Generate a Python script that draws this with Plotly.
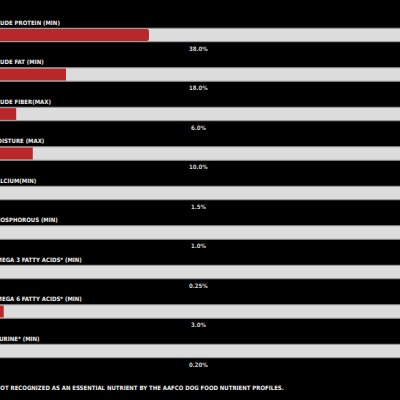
import plotly.graph_objects as go

nutrients = ["CRUDE PROTEIN (MIN)", "CRUDE FAT (MIN)", "CRUDE FIBER(MAX)", "MOISTURE (MAX)",
             "CALCIUM(MIN)", "PHOSPHOROUS (MIN)", "OMEGA 3 FATTY ACIDS* (MIN)",
             "OMEGA 6 FATTY ACIDS* (MIN)", "TAURINE* (MIN)"]
values = [38.0, 18.0, 6.0, 10.0, 1.5, 1.0, 0.25, 3.0, 0.20]
value_labels = ["38.0%", "18.0%", "6.0%", "10.0%", "1.5%", "1.0%", "0.25%", "3.0%", "0.20%"]
full_scale = [100] * len(values)
footnote = "*NOT RECOGNIZED AS AN ESSENTIAL NUTRIENT BY THE AAFCO DOG FOOD NUTRIENT PROFILES."

idx = list(range(len(nutrients)))
FONT = "DejaVu Sans Condensed"
FS = 6

fig = go.Figure()
fig.add_trace(go.Bar(x=full_scale, y=idx, orientation="h", width=0.34,
                     marker=dict(color="#dcdcdc", line=dict(color="#9a9a9a", width=1)),
                     hoverinfo="skip"))
fig.add_trace(go.Bar(x=values, y=idx, orientation="h", width=0.30,
                     marker=dict(color="#b8282b", line=dict(width=0), cornerradius=2),
                     hoverinfo="skip"))

annotations = []
for i, (n, lab) in enumerate(zip(nutrients, value_labels)):
    annotations.append(dict(x=0, xref="paper", xshift=-10.5, y=i, text="<b>" + n + "</b>",
                            xanchor="left", yanchor="middle",
                            yshift=13, showarrow=False,
                            font=dict(family=FONT, size=FS, color="#eeeeee")))
    annotations.append(dict(x=50, y=i, text="<b>" + lab + "</b>", xanchor="center", yanchor="middle",
                            yshift=-13, showarrow=False,
                            font=dict(family=FONT, size=FS, color="#d0d0d0")))
annotations.append(dict(x=0, xref="paper", xshift=-9, y=len(nutrients) - 1, text="<b>" + footnote + "</b>",
                        xanchor="left", yanchor="middle", yshift=-36, showarrow=False,
                        font=dict(family=FONT, size=FS, color="#eeeeee")))

fig.update_layout(
    width=400, height=400, margin=dict(l=0, r=0, t=0, b=0),
    paper_bgcolor="#000000", plot_bgcolor="#000000",
    barmode="overlay", showlegend=False, annotations=annotations,
    xaxis=dict(range=[2.1, 98.5], visible=False, fixedrange=True),
    yaxis=dict(range=[9.24, -0.886], visible=False, fixedrange=True),
)
fig.write_html("out.html", config={"displayModeBar": False},
               post_script="document.body.style.margin='0';document.body.style.background='#000';")
